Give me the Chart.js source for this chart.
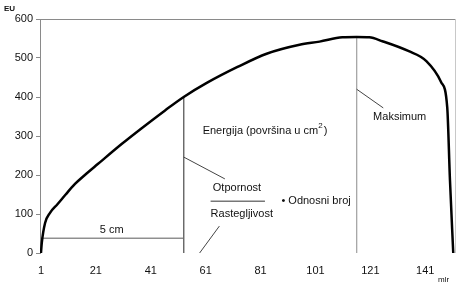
<!DOCTYPE html>
<html>
<head>
<meta charset="utf-8">
<script src="https://cdn.jsdelivr.net/npm/chart.js@4.4.1/dist/chart.umd.min.js"></script>
<style>
  html, body { margin: 0; padding: 0; background: #fff; }
  #wrap { width: 457px; height: 285px; }
</style>
</head>
<body>
<div id="wrap"><canvas id="c" width="457" height="285"></canvas></div>
<script>
// curve (x in mlr, y in EU)
const mlr = [1, 1.3, 2.5, 4.3, 7, 10, 13.4, 17, 21.7, 30.5, 37.7, 46.1, 53, 61.4, 72.6, 83.2, 95.2, 102.5, 110.8, 116, 120.6, 125.4, 134.8, 141.4, 146.8, 149, 150, 151.2];
const eu  = [0, 26, 77, 103, 125, 150, 177, 200, 228, 280, 320, 365, 400, 436, 477, 511, 534, 542, 553, 554, 553, 543, 518, 492, 438, 374, 187, 0];

const xTicks = [1, 21, 41, 61, 81, 101, 121, 141];
const yTicks = [0, 100, 200, 300, 400, 500, 600];

// markers
const energyAt = 53;     // end of the 5 cm section
const maxAt = 116;       // maximum
const fiveCmLevel = 38;  // EU level of the 5 cm bracket

const FONT = '"Liberation Sans", Arial, sans-serif';

function euAt(x) {
  const i = mlr.indexOf(x);
  return i >= 0 ? eu[i] : 0;
}

const curve = mlr.map((x, i) => ({ x, y: eu[i] }));

const annotations = {
  id: 'annotations',
  afterDatasetsDraw(chart) {
    const { ctx, chartArea: a, scales: { x, y } } = chart;
    const px = v => x.getPixelForValue(v);
    const py = v => y.getPixelForValue(v);

    ctx.save();
    // frame top + right
    ctx.lineWidth = 1;
    ctx.strokeStyle = '#8a8a8a';
    ctx.beginPath();
    ctx.moveTo(a.left, a.top + 0.5); ctx.lineTo(a.right, a.top + 0.5);
    ctx.stroke();
    ctx.strokeStyle = '#c8c8c8';
    ctx.beginPath();
    ctx.moveTo(a.right - 0.5, a.top); ctx.lineTo(a.right - 0.5, a.bottom);
    ctx.stroke();

    // leader lines
    const seg = (x1, y1, x2, y2, col) => {
      ctx.strokeStyle = col;
      ctx.beginPath();
      ctx.moveTo(px(x1), py(y1)); ctx.lineTo(px(x2), py(y2));
      ctx.stroke();
    };
    seg(53, 246, 68, 190, '#444');
    seg(66, 69, 58.8, 0, '#444');
    seg(116, 420, 125.7, 372, '#444');

    // fraction bar
    ctx.strokeStyle = '#777';
    ctx.lineWidth = 1.5;
    ctx.beginPath();
    ctx.moveTo(px(62.8), py(133)); ctx.lineTo(px(82.6), py(133));
    ctx.stroke();

    ctx.fillStyle = '#111';
    ctx.textBaseline = 'middle';
    ctx.font = '11px ' + FONT;
    ctx.textAlign = 'center';
    ctx.fillText('5 cm', px(26.8), py(60));

    ctx.textAlign = 'left';
    const ex = px(59.9), ey = py(314);
    const e1 = 'Energija (površina u cm';
    ctx.fillText(e1, ex, ey);
    let w = ctx.measureText(e1).width;
    ctx.font = '8px ' + FONT;
    ctx.fillText('2', ex + w, ey - 5);
    w += ctx.measureText('2').width;
    ctx.font = '11px ' + FONT;
    ctx.fillText(')', ex + w + 1, ey);

    ctx.fillText('Maksimum', px(122), py(349));
    ctx.fillText('Otpornost', px(63.6), py(167));
    ctx.fillText('Rastegljivost', px(62.8), py(101));
    ctx.fillText('\u2022 Odnosni broj', px(88.6), py(133));

    // axis titles
    ctx.font = 'bold 8px ' + FONT;
    ctx.fillText('EU', 4, 9);
    ctx.font = '8px ' + FONT;
    ctx.fillText('mlr', 438, 280);
    ctx.restore();
  }
};

new Chart(document.getElementById('c'), {
  type: 'line',
  data: {
    datasets: [
      {
        data: curve,
        borderColor: '#000',
        borderWidth: 2.5,
        pointRadius: 0,
        cubicInterpolationMode: 'monotone',
        fill: false
      },
      {
        data: [{ x: energyAt, y: euAt(energyAt) }, { x: energyAt, y: 0 }],
        borderColor: '#6a6a6a', borderWidth: 1, pointRadius: 0
      },
      {
        data: [{ x: maxAt, y: euAt(maxAt) }, { x: maxAt, y: 0 }],
        borderColor: '#a8a8a8', borderWidth: 1, pointRadius: 0
      },
      {
        data: [{ x: 1, y: fiveCmLevel }, { x: energyAt, y: fiveCmLevel }],
        borderColor: '#5a5a5a', borderWidth: 1, pointRadius: 0
      }
    ]
  },
  options: {
    responsive: false,
    animation: false,
    layout: { padding: { top: 19, right: 1, left: 0, bottom: 0 } },
    plugins: { legend: { display: false }, tooltip: { enabled: false } },
    scales: {
      x: {
        type: 'linear',
        min: 0.65, max: 152.2,
        grid: { display: false, drawTicks: false },
        border: { display: false },
        afterBuildTicks: s => { s.ticks = xTicks.map(v => ({ value: v })); },
        afterFit: s => { s.height = 32; },
        ticks: { color: '#111', font: { family: FONT, size: 11 }, padding: 11, maxRotation: 0, autoSkip: false }
      },
      y: {
        min: 0, max: 600,
        afterBuildTicks: s => { s.ticks = yTicks.map(v => ({ value: v })); },
        afterFit: s => { s.width = 40; },
        grid: { drawOnChartArea: false, drawTicks: true, tickLength: 4, color: '#8a8a8a' },
        border: { display: true, color: '#8a8a8a', width: 1 },
        ticks: { color: '#111', font: { family: FONT, size: 11 }, padding: 3 }
      }
    }
  },
  plugins: [annotations]
});
</script>
</body>
</html>
